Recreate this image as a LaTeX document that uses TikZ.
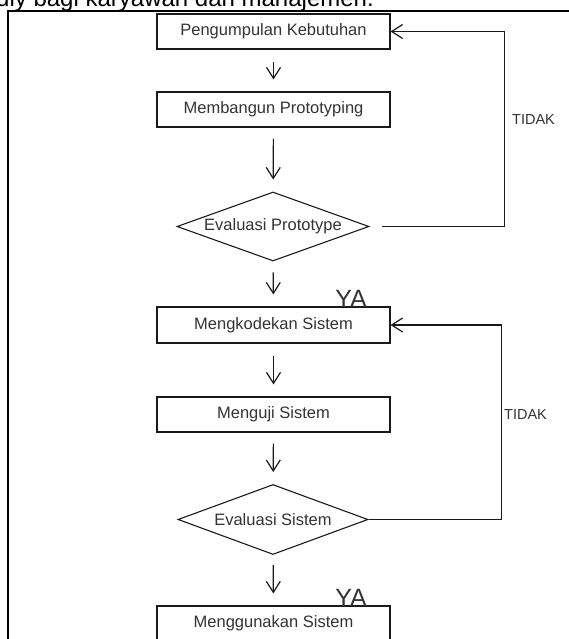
\documentclass[tikz,border=0pt]{standalone}
\usepackage{fontspec}
\setmainfont{Liberation Sans}
\usepackage{xcolor}
\usetikzlibrary{arrows.meta,shapes.geometric}

\definecolor{textgray}{HTML}{333333}
\definecolor{linegray}{HTML}{1A1A1A}

\begin{document}
\begin{tikzpicture}[x=1pt, y=-1pt, >={Straight Barb[length=11pt,width=14pt]},
    stepbox/.style={draw=linegray, line width=1.1pt, rectangle, minimum width=233pt,
        minimum height=35pt, inner sep=0pt, text=textgray, font=\fontsize{16.5}{19}\selectfont},
    decision/.style={draw=linegray, line width=1.1pt, diamond, aspect=2.8, minimum width=192pt,
        minimum height=69pt, inner sep=0pt, text=textgray, font=\fontsize{16.5}{19}\selectfont},
    flow/.style={->, draw=linegray, line width=1.2pt, shorten <=12pt, shorten >=12pt},
    loop/.style={->, draw=linegray, line width=1.2pt},
    yalabel/.style={anchor=base east, inner sep=0pt, text=textgray, font=\fontsize{25}{28}\selectfont},
    tidaklabel/.style={anchor=west, inner sep=0pt, text=textgray, font=\fontsize{14.5}{17}\selectfont}]
    \useasboundingbox (0,0) rectangle (569,639);
    \clip (0,0) rectangle (569,639);

    % Caption cut off at the top and frame
    \node [anchor=base east, inner sep=0pt, font=\fontsize{24}{28}\selectfont] (caption) at (374,7)
        {friendly bagi karyawan dan manajemen.};
    \draw [line width=2pt, black] (8,645) -- (8,11.5) -- (575,11.5);

    % Steps of the first loop
    \node [stepbox] (kebutuhan) at (273.5,31.5) {Pengumpulan Kebutuhan};
    \node [stepbox] (prototyping) at (273.5,109.5) {Membangun Prototyping};
    \node [decision] (evalproto) at (273,226.5) {Evaluasi Prototype};

    % Steps of the second loop
    \node [stepbox, minimum height=36pt] (kodekan) at (273.5,325) {Mengkodekan Sistem};
    \node [stepbox] (menguji) at (273.5,414.5) {Menguji Sistem};
    \node [decision, minimum width=190pt, minimum height=70pt] (evalsistem) at (273,519.5) {Evaluasi Sistem};
    \node [stepbox] (menggunakan) at (273.5,623.5) {Menggunakan Sistem};

    % Downward arrows
    \draw [flow] (kebutuhan) -- (prototyping);
    \draw [flow, shorten <=11pt] (prototyping) -- (evalproto);
    \draw [flow, shorten <=11pt] (evalproto) -- (kodekan);
    \draw [flow] (kodekan) -- (menguji);
    \draw [flow, shorten <=11pt] (menguji) -- (evalsistem);
    \draw [flow, shorten <=10pt] (evalsistem) -- (menggunakan);

    % Feedback loops
    \draw [loop, shorten <=12pt] (evalproto.east) -- ++(135,0) |- (kebutuhan.east);
    \draw [loop] (evalsistem.east) -- ++(133,0) |- (kodekan.east);

    % Labels
    \node [tidaklabel] (tidak1) at (512,120) {TIDAK};
    \node [tidaklabel] (tidak2) at (504,415) {TIDAK};
    \node [yalabel] (ya1) at (367,307.5) {YA};
    \node [yalabel] (ya2) at (367,606.5) {YA};
\end{tikzpicture}
\end{document}
